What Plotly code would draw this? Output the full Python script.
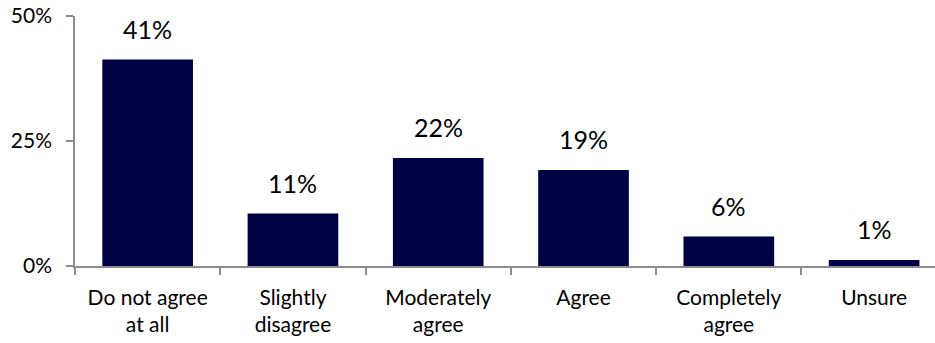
import plotly.graph_objects as go

categories = ["Do not agree<br>at all", "Slightly<br>disagree", "Moderately<br>agree",
              "Agree", "Completely<br>agree", "Unsure"]
values = [41.3, 10.5, 21.6, 19.2, 5.9, 1.2]
labels = ["41%", "11%", "22%", "19%", "6%", "1%"]
y_ticks = [0, 25, 50]
y_tick_labels = ["0%", "25%", "50%"]

FONT = "Lato, Open Sans, sans-serif"
AXIS = "#8c8c8c"

fig = go.Figure()
fig.add_trace(go.Bar(
    x=categories, y=values,
    marker=dict(color="#000044", line=dict(width=0)),
    width=0.624,
    hoverinfo="skip",
))

for c, v, t in zip(categories, values, labels):
    fig.add_annotation(x=c, y=v, text=t, showarrow=False,
                       yanchor="bottom", yshift=14,
                       font=dict(family=FONT, size=25, color="#000000"))

fig.update_layout(
    width=935, height=343,
    margin=dict(l=75, r=0, t=16, b=77, pad=0),
    paper_bgcolor="white", plot_bgcolor="white",
    showlegend=False,
    font=dict(family=FONT, size=21, color="#000000"),
    xaxis=dict(
        type="category",
        range=[-0.5, 5.419],
        showgrid=False, zeroline=False,
        showline=True, linecolor=AXIS, linewidth=1.5,
        ticks="outside", tickson="boundaries", ticklen=7, tickcolor=AXIS, tickwidth=1.5,
        ticklabelstandoff=12,
        tickfont=dict(family=FONT, size=21, color="#000000"),
    ),
    yaxis=dict(
        range=[0, 50],
        tickvals=y_ticks, ticktext=y_tick_labels,
        showgrid=False, zeroline=False,
        showline=True, linecolor=AXIS, linewidth=1.5,
        ticks="outside", ticklen=7, tickcolor=AXIS, tickwidth=1.5,
        ticklabelstandoff=10,
        tickfont=dict(family=FONT, size=21, color="#000000"),
    ),
)

fig.write_html("out.html")
